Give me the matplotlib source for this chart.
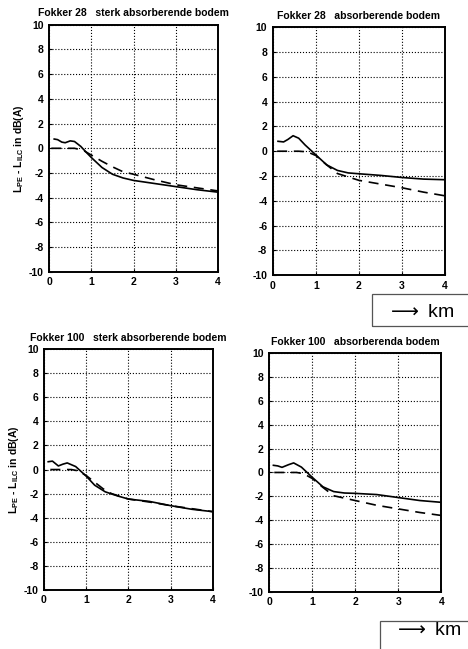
import matplotlib

matplotlib.use("Agg")
import matplotlib.pyplot as plt
from matplotlib.patches import Rectangle

# afstand (km) en verschil L_PE - L_ILC (dB(A))
tl_solid_x = [0.12, 0.2, 0.3, 0.38, 0.5, 0.6, 0.75, 0.9, 1.0, 1.25, 1.5, 1.75, 2.0, 2.5, 3.0, 3.5, 4.0]
tl_solid_y = [0.75, 0.7, 0.5, 0.45, 0.6, 0.55, 0.15, -0.4, -0.75, -1.55, -2.1, -2.4, -2.6, -2.85, -3.1, -3.35, -3.55]
tl_dash_x = [0.05, 0.3, 0.6, 0.8, 1.0, 1.25, 1.5, 1.75, 2.0, 2.5, 3.0, 3.5, 4.0]
tl_dash_y = [0.0, 0.0, 0.0, -0.15, -0.55, -1.05, -1.5, -1.9, -2.1, -2.55, -2.95, -3.2, -3.45]

tr_solid_x = [0.12, 0.25, 0.35, 0.47, 0.6, 0.75, 1.0, 1.25, 1.5, 1.75, 2.0, 2.5, 3.0, 3.5, 4.0]
tr_solid_y = [0.8, 0.75, 0.95, 1.25, 1.05, 0.5, -0.3, -1.1, -1.55, -1.75, -1.82, -1.95, -2.12, -2.25, -2.3]
tr_dash_x = [0.1, 0.35, 0.6, 0.8, 1.0, 1.25, 1.5, 2.0, 2.5, 3.0, 3.5, 4.0]
tr_dash_y = [0.0, 0.0, 0.0, -0.05, -0.35, -1.1, -1.8, -2.35, -2.65, -2.95, -3.3, -3.6]

bl_solid_x = [0.1, 0.2, 0.34, 0.45, 0.55, 0.75, 1.0, 1.2, 1.45, 1.75, 2.0, 2.5, 3.0, 3.5, 4.0]
bl_solid_y = [0.65, 0.7, 0.3, 0.45, 0.55, 0.25, -0.55, -1.3, -1.85, -2.2, -2.45, -2.65, -3.0, -3.3, -3.5]
bl_dash_x = [0.15, 0.4, 0.65, 0.8, 1.0, 1.2, 1.4, 1.6, 2.0, 2.5, 3.0, 3.5, 4.0]
bl_dash_y = [0.0, 0.0, 0.0, -0.1, -0.5, -1.05, -1.6, -2.0, -2.45, -2.7, -3.0, -3.25, -3.5]

br_solid_x = [0.1, 0.2, 0.3, 0.45, 0.57, 0.75, 1.0, 1.25, 1.5, 1.75, 2.0, 2.5, 3.0, 3.5, 4.0]
br_solid_y = [0.6, 0.55, 0.43, 0.65, 0.8, 0.45, -0.4, -1.2, -1.6, -1.72, -1.75, -1.85, -2.1, -2.35, -2.5]
br_dash_x = [0.12, 0.4, 0.64, 0.8, 1.0, 1.25, 1.5, 2.0, 2.5, 3.0, 3.5, 4.0]
br_dash_y = [0.0, 0.0, 0.0, -0.1, -0.5, -1.25, -1.95, -2.35, -2.75, -3.05, -3.35, -3.6]

titles = [
    "Fokker 28   sterk absorberende bodem",
    "Fokker 28   absorberende bodem",
    "Fokker 100   sterk absorberende bodem",
    "Fokker 100   absorberenda bodem",
]
xticks = [0, 1, 2, 3, 4]
yticks = [-10, -8, -6, -4, -2, 0, 2, 4, 6, 8, 10]
ylabel = r"$\mathregular{L_{PE}}$ - $\mathregular{L_{ILC}}$ in dB(A)"

plt.rcParams["font.family"] = ["Liberation Sans", "DejaVu Sans"]
plt.rcParams["axes.unicode_minus"] = False

fig = plt.figure(figsize=(4.68, 6.49), dpi=100)

positions = [
    [0.105, 0.581, 0.361, 0.381],
    [0.583, 0.576, 0.368, 0.382],
    [0.094, 0.091, 0.361, 0.371],
    [0.575, 0.088, 0.368, 0.368],
]
curves = [
    (tl_solid_x, tl_solid_y, tl_dash_x, tl_dash_y),
    (tr_solid_x, tr_solid_y, tr_dash_x, tr_dash_y),
    (bl_solid_x, bl_solid_y, bl_dash_x, bl_dash_y),
    (br_solid_x, br_solid_y, br_dash_x, br_dash_y),
]

for i, (pos, (sx, sy, dx, dy), title) in enumerate(zip(positions, curves, titles)):
    ax = fig.add_axes(pos)
    ax.plot(sx, sy, color="black", lw=1.2)
    ax.plot(dx, dy, color="black", lw=1.2, ls=(0, (6, 4)))
    ax.set_xlim(0, 4)
    ax.set_ylim(-10, 10)
    ax.set_xticks(xticks)
    ax.set_yticks(yticks)
    ax.grid(True, ls=":", lw=0.8, color="black")
    ax.tick_params(direction="in", length=2, labelsize=7.5, pad=4)
    for lab in ax.get_xticklabels() + ax.get_yticklabels():
        lab.set_fontweight("bold")
    for sp in ax.spines.values():
        sp.set_linewidth(1.4)
    ax.set_title(title, fontsize=7.5, fontweight="bold", pad=6)
    if i % 2 == 0:
        ax.set_ylabel(ylabel, fontsize=7.5, fontweight="bold", labelpad=2)

# "-> km" kaders
for (x0, y0, w, h), (ax0, ay0) in [((0.795, 0.498, 0.25, 0.049), (0.826, 0.519)),
                                  ((0.812, -0.02, 0.25, 0.063), (0.842, 0.028))]:
    fig.patches.append(Rectangle((x0, y0), w, h, transform=fig.transFigure,
                                 fill=False, edgecolor="#555555", lw=0.9))
    fig.text(ax0, ay0, r"$\longrightarrow$ km", fontsize=14,
             ha="left", va="center")

fig.savefig("out.png", dpi=100)
